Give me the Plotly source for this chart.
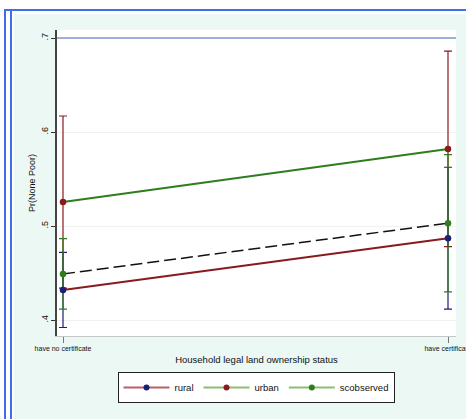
import plotly.graph_objects as go

# Predicted probabilities with confidence half-widths, by certificate status
categories = ["have no certificate", "have certificate"]
series_names = ["rural", "urban", "scobserved"]
rural_vals = [0.432, 0.487]
rural_err = [0.040, 0.0755]
urban_vals = [0.5255, 0.582]
urban_err = [0.0915, 0.104]
scobs_vals = [0.449, 0.503]
scobs_err = [0.0375, 0.073]
y_tick_vals = [0.4, 0.5, 0.6, 0.7]
y_tick_text = [".4", ".5", ".6", ".7"]

W, H = 466, 419
ML, MR, MT, MB = 57, 10, 30, 83
PW, PH = W - ML - MR, H - MT - MB


def fx(px):
    return (px - ML) / PW


def fy(py):
    return (H - MB - py) / PH


NAVY = "#1b1f78"
MAROON = "#8a1a1e"
GREEN = "#2f7d1c"
MINT = "#ebf8f3"
FRAME_BLUE = "#3f6fe6"

xs = [0, 1]
fig = go.Figure()

# confidence-interval bars (drawn first so the points sit on top)
for vals, err, col in [(urban_vals, urban_err, MAROON),
                       (rural_vals, rural_err, NAVY),
                       (scobs_vals, scobs_err, GREEN)]:
    fig.add_trace(go.Scatter(
        x=xs, y=vals, mode="markers",
        marker=dict(size=1, color="rgba(0,0,0,0)"),
        error_y=dict(type="data", array=err, visible=True, color=col,
                     thickness=1.2, width=4),
        showlegend=False, hoverinfo="skip"))

# fitted lines with point markers
fig.add_trace(go.Scatter(
    x=xs, y=rural_vals, mode="lines+markers",
    line=dict(color=MAROON, width=2),
    marker=dict(color=NAVY, size=6.5), showlegend=False))
fig.add_trace(go.Scatter(
    x=xs, y=urban_vals, mode="lines+markers",
    line=dict(color=GREEN, width=2),
    marker=dict(color=MAROON, size=6.5), showlegend=False))
fig.add_trace(go.Scatter(
    x=xs, y=scobs_vals, mode="lines+markers",
    line=dict(color="#111111", width=1.5, dash="12px,5px"),
    marker=dict(color=GREEN, size=6.5), showlegend=False))

# legend keys
legend_styles = [("#b8606a", NAVY), ("#8dbd72", MAROON), ("#8dbd72", GREEN)]
for name, (lc, mc) in zip(series_names, legend_styles):
    fig.add_trace(go.Scatter(
        x=[None], y=[None], mode="lines+markers", name=name,
        line=dict(color=lc, width=2), marker=dict(color=mc, size=6)))

shapes = [
    # white margin strips with the double blue frame
    dict(type="rect", xref="paper", yref="paper", x0=fx(0), x1=fx(13.5),
         y0=fy(H), y1=fy(0), fillcolor="white", line_width=0, layer="below"),
    dict(type="rect", xref="paper", yref="paper", x0=fx(0), x1=fx(W),
         y0=fy(14), y1=fy(0), fillcolor="white", line_width=0, layer="below"),
    dict(type="line", xref="paper", yref="paper", x0=fx(4), x1=fx(W),
         y0=fy(10), y1=fy(10), line=dict(color=FRAME_BLUE, width=2.2)),
    dict(type="line", xref="paper", yref="paper", x0=fx(5), x1=fx(5),
         y0=fy(H), y1=fy(10), line=dict(color=FRAME_BLUE, width=2)),
    dict(type="line", xref="paper", yref="paper", x0=fx(11), x1=fx(11),
         y0=fy(H), y1=fy(10), line=dict(color=FRAME_BLUE, width=2)),
    # reference line at .7
    dict(type="line", xref="paper", yref="y", x0=0, x1=1, y0=0.7, y1=0.7,
         line=dict(color="#4a66c8", width=1.2)),
]

FONT = "Liberation Sans, Arial, sans-serif"

fig.update_layout(
    width=W, height=H,
    margin=dict(l=ML, r=MR, t=MT, b=MB, pad=0),
    paper_bgcolor=MINT, plot_bgcolor="white",
    font=dict(family=FONT, color="#111111"),
    shapes=shapes,
    showlegend=True,
    legend=dict(orientation="h", x=fx(256), xanchor="center",
                y=fy(372), yanchor="top", bgcolor="white",
                bordercolor="#222222", borderwidth=1,
                font=dict(size=9.5, family=FONT), itemwidth=46,
                tracegroupgap=0),
    xaxis=dict(
        range=[-6 / 385, 1 + 8 / 385], tickmode="array", tickvals=xs,
        ticktext=categories, tickfont=dict(size=7), ticks="outside",
        ticklen=6, tickcolor="#777777", showline=True, linecolor="#c4c8c8",
        linewidth=1, showgrid=False, zeroline=False,
        ticklabeloverflow="allow", automargin=False,
        title=dict(text="Household legal land ownership status",
                   font=dict(size=9.5), standoff=4)),
    yaxis=dict(
        range=[0.7 - (336 - 38) / 940, 0.7 + 8 / 940], tickmode="array",
        tickvals=y_tick_vals, ticktext=y_tick_text, tickangle=-90,
        tickfont=dict(size=9), ticks="outside", ticklen=4,
        tickcolor="#333333", showline=True, linecolor="#444444",
        linewidth=1.5, showgrid=True, gridcolor="#eef2f1", gridwidth=1,
        zeroline=False, automargin=False,
        title=dict(text="Pr(None Poor)", font=dict(size=9), standoff=3)),
)

fig.write_html("out.html")
